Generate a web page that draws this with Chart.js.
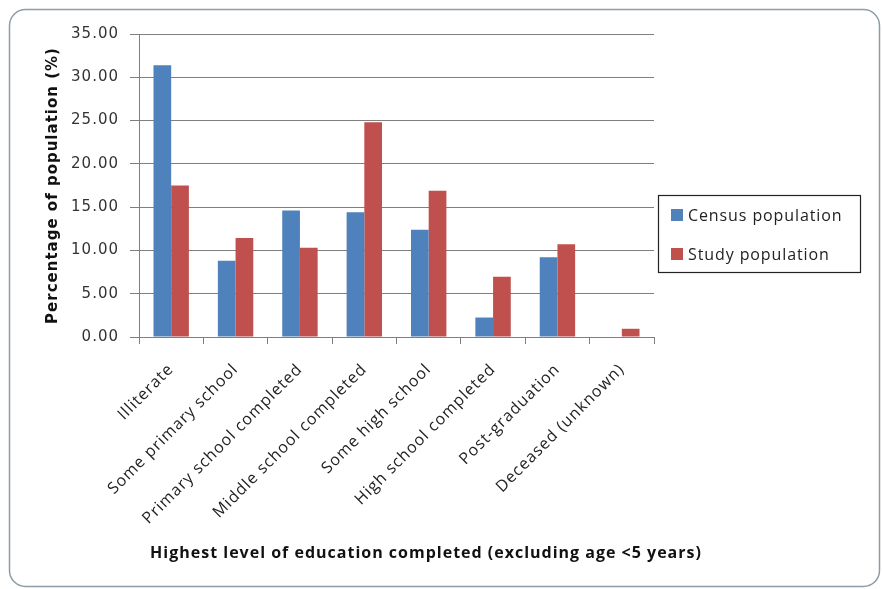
<!DOCTYPE html>
<html>
<head>
<meta charset="utf-8">
<script src="https://cdn.jsdelivr.net/npm/chart.js@4/dist/chart.umd.min.js"></script>
<style>
html,body{margin:0;padding:0;background:#ffffff;}
#wrap{width:882px;height:589px;position:relative;}
</style>
</head>
<body>
<div id="wrap"><canvas id="c"></canvas></div>
<script>
const categories = ["Illiterate", "Some primary school", "Primary school completed", "Middle school completed", "Some high school", "High school completed", "Post-graduation", "Deceased (unknown)"];
const seriesNames = ["Census population", "Study population"];
const censusValues = [31.4, 8.8, 14.6, 14.4, 12.4, 2.25, 9.2, 0];
const studyValues = [17.5, 11.45, 10.3, 24.8, 16.9, 6.95, 10.7, 0.95];
const yTickMin = 0, yTickMax = 35, yTickStep = 5;
const xTitle = "Highest level of education completed (excluding age <5 years)";
const yTitle = "Percentage of population (%)";

const frameAndLegend = {
  id: 'frameAndLegend',
  beforeDraw(chart) {
    const ctx = chart.ctx;
    ctx.save();
    ctx.fillStyle = '#ffffff';
    ctx.fillRect(0, 0, chart.width, chart.height);
    ctx.beginPath();
    ctx.roundRect(9.5, 9.5, 870, 577, 16);
    ctx.strokeStyle = '#8e9ca6';
    ctx.lineWidth = 1.5;
    ctx.stroke();
    ctx.restore();
    try { ctx.letterSpacing = '1px'; } catch (e) {}
  },
  afterDraw(chart) {
    const ctx = chart.ctx;
    ctx.save();
    ctx.strokeStyle = '#222222';
    ctx.lineWidth = 1.2;
    ctx.strokeRect(658.5, 195.5, 202, 77);
    ctx.font = '16px "Open Sans"';
    ctx.textBaseline = 'middle';
    ctx.textAlign = 'left';
    try { ctx.letterSpacing = '0.9px'; } catch (e) {}
    const rows = [215, 254];
    chart.data.datasets.forEach((ds, i) => {
      ctx.fillStyle = ds.backgroundColor;
      ctx.fillRect(671, rows[i] - 6, 12, 12);
      ctx.fillStyle = '#222222';
      ctx.fillText(ds.label, 688, rows[i] + 1);
    });
    try { ctx.letterSpacing = '1px'; } catch (e) {}
    ctx.font = 'bold 16px "Open Sans"';
    ctx.textAlign = 'center';
    ctx.fillStyle = '#111111';
    ctx.fillText(xTitle, 426, 553);
    ctx.restore();
    try { ctx.letterSpacing = '0px'; } catch (e) {}
  }
};

new Chart(document.getElementById('c'), {
  type: 'bar',
  data: {
    labels: categories,
    datasets: [
      { label: seriesNames[0], data: censusValues, backgroundColor: '#4F81BD', borderWidth: 0 },
      { label: seriesNames[1], data: studyValues, backgroundColor: '#C0504D', borderWidth: 0 }
    ]
  },
  options: {
    responsive: true,
    maintainAspectRatio: false,
    animation: false,
    devicePixelRatio: 1,
    layout: { padding: { left: 0, top: 34, right: 228, bottom: 0 } },
    datasets: { bar: { categoryPercentage: 0.55, barPercentage: 1.0 } },
    plugins: { legend: { display: false }, tooltip: { enabled: false } },
    scales: {
      x: {
        afterFit(s) { s.height = 252; },
        grid: { drawOnChartArea: false, drawTicks: true, tickLength: 7, color: '#7f7f7f', offset: true },
        border: { color: '#7f7f7f', width: 1 },
        ticks: {
          minRotation: 45, maxRotation: 45, autoSkip: false, padding: 16,
          color: '#222222', font: { family: '"Open Sans"', size: 16 }
        }
      },
      y: {
        min: yTickMin, max: yTickMax,
        afterFit(s) { s.width = 139; },
        grid: { color: '#7f7f7f', lineWidth: 1, drawTicks: true, tickLength: 9 },
        border: { color: '#7f7f7f', width: 1 },
        ticks: {
          stepSize: yTickStep, padding: 11, color: '#333333',
          font: { family: '"DejaVu Sans"', size: 15 },
          callback: v => Number(v).toFixed(2)
        },
        title: {
          display: true, text: yTitle, color: '#111111',
          font: { family: '"DejaVu Sans"', size: 15, weight: 'bold' },
          padding: { top: 44, bottom: 0 }
        }
      }
    }
  },
  plugins: [frameAndLegend]
});
</script>
</body>
</html>
